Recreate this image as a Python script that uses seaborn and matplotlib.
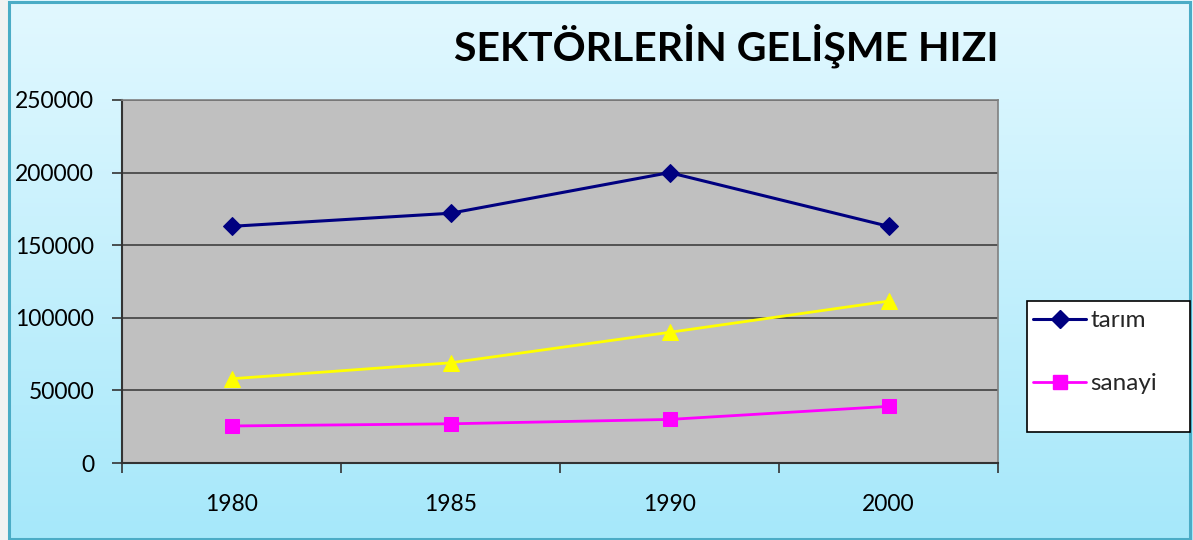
import numpy as np
import pandas as pd
import matplotlib
matplotlib.use("Agg")
import matplotlib.pyplot as plt
from matplotlib.patches import Rectangle
from matplotlib.lines import Line2D
import seaborn as sns

years = ["1980", "1985", "1990", "2000"]
tarim = [163000, 172000, 200000, 163000]
hizmet = [58000, 69000, 90000, 111500]
sanayi = [25500, 27000, 30000, 39000]
title = "SEKTÖRLERİN GELİŞME HIZI"
yticks = [0, 50000, 100000, 150000, 200000, 250000]

sns.set_theme(style="white")
plt.rcParams['font.family'] = ['Lato', 'DejaVu Sans']

W, H = 1193, 540
fig = plt.figure(figsize=(W / 100, H / 100), dpi=100)

# background gradient
bg = fig.add_axes([0, 0, 1, 1], zorder=-10)
grad = np.linspace(0, 1, 256).reshape(-1, 1)
top = np.array([0xE2, 0xF8, 0xFF]) / 255
bot = np.array([0xA6, 0xE8, 0xFA]) / 255
img = top[None, None, :] * (1 - grad[:, :, None]) + bot[None, None, :] * grad[:, :, None]
bg.imshow(img, aspect="auto", extent=[0, 1, 0, 1], origin="upper")
bg.set_axis_off()
fig.patches.append(Rectangle((0, 0), 8 / W, 1, transform=fig.transFigure,
                             facecolor="#F2F2F2", edgecolor="none", zorder=-5))
fig.patches.append(Rectangle((9 / W, 1.5 / H), (1181 / W), (537 / H), transform=fig.transFigure,
                             facecolor="none", edgecolor="#4BACC6", lw=2.2, zorder=5))

ax = fig.add_axes([122 / W, (H - 463) / H, (998 - 122) / W, (463 - 100) / H])
ax.set_facecolor("#C0C0C0")

df = pd.DataFrame({"x": np.arange(len(years)), "tarim": tarim, "hizmet": hizmet, "sanayi": sanayi})
sns.lineplot(data=df, x="x", y="tarim", ax=ax, color="#000080", lw=2.2, marker="D",
             markersize=9, markeredgecolor="#000080", zorder=4)
sns.lineplot(data=df, x="x", y="hizmet", ax=ax, color="#FFFF00", lw=2.0, marker="^",
             markersize=11, markeredgecolor="#FFFF00", zorder=4)
sns.lineplot(data=df, x="x", y="sanayi", ax=ax, color="#FF00FF", lw=2.0, marker="s",
             markersize=10, markeredgecolor="#FF00FF", zorder=4)

ax.set_xlim(-0.5, len(years) - 0.5)
ax.set_ylim(0, 250000)
ax.set_yticks(yticks)
ax.set_yticklabels([str(v) for v in yticks], fontsize=16.5)
ax.set_xticks(np.arange(len(years)))
ax.set_xticklabels(years, fontsize=16.5)
ax.set_xticks(np.arange(-0.5, len(years)), minor=True)
ax.tick_params(axis="x", which="major", length=0, pad=22)
ax.tick_params(axis="x", which="minor", length=7, width=1.2, color="#333333", direction="out", bottom=True)
ax.tick_params(axis="y", which="major", length=7, width=1.2, color="#333333", direction="out", left=True, pad=13)
ax.set_xlabel("")
ax.set_ylabel("")
ax.grid(axis="y", color="#404040", lw=1.2)
ax.grid(axis="x", visible=False)
for side in ["left", "bottom"]:
    ax.spines[side].set_color("#333333")
    ax.spines[side].set_linewidth(1.5)
for side in ["top", "right"]:
    ax.spines[side].set_color("#808080")
    ax.spines[side].set_linewidth(1.2)
for lbl in ax.get_xticklabels() + ax.get_yticklabels():
    lbl.set_color("black")

fig.text(726 / W, 1 - 46 / H, title, fontsize=29.5, fontweight="bold", ha="center", va="center", color="black")

# legend box
fig.patches.append(Rectangle((1027 / W, (H - 432) / H), (163 / W), (131 / H), transform=fig.transFigure,
                             facecolor="white", edgecolor="black", lw=1.2, zorder=6))
handles = [Line2D([], [], color="#000080", lw=2.2, marker="D", markersize=9),
           Line2D([], [], color="#FF00FF", lw=2.0, marker="s", markersize=10)]
leg = fig.legend(handles, ["tarım", "sanayi"], loc="upper left",
                 bbox_to_anchor=(1031 / W, 1 - 308 / H), frameon=False, fontsize=17.5,
                 handlelength=2.15, handletextpad=0.2, labelspacing=1.72, borderpad=0.1,
                 borderaxespad=0)
leg.set_zorder(7)

fig.savefig("out.png", dpi=100)
